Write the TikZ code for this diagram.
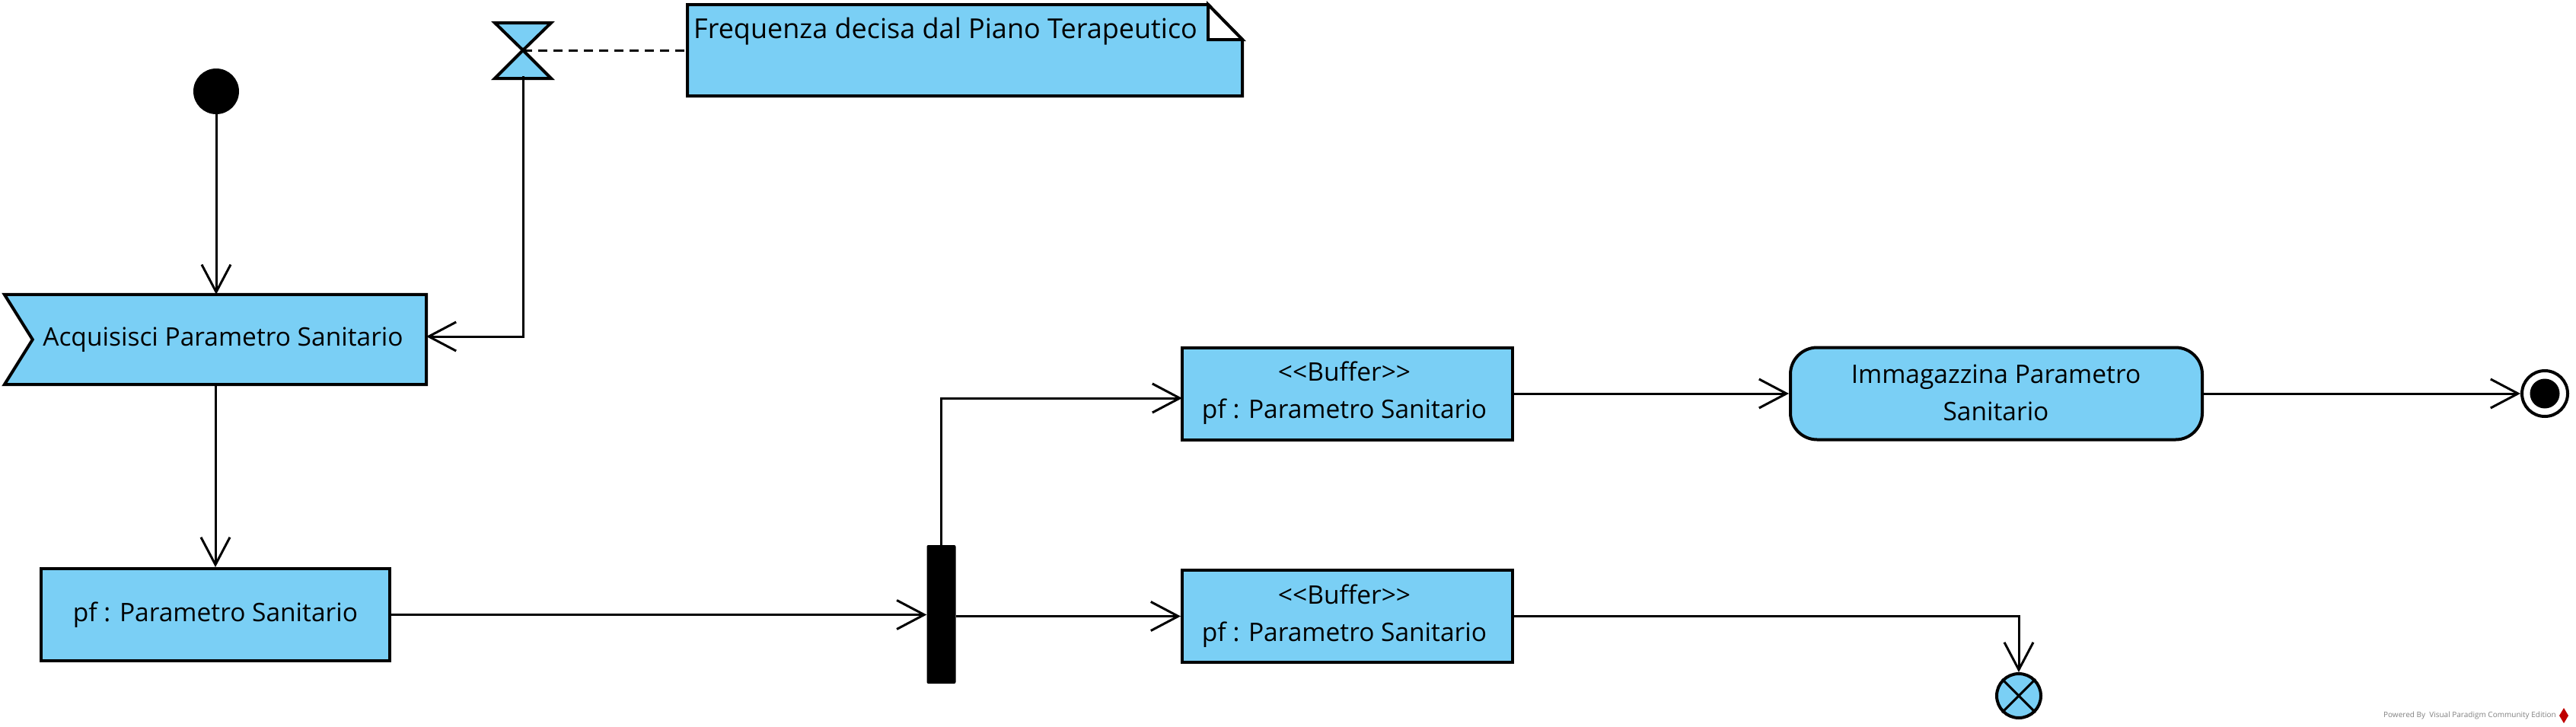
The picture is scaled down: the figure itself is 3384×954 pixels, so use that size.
\documentclass[tikz,border=0pt]{standalone}
\usepackage{fontspec}
\setmainfont{Open Sans}
\usetikzlibrary{arrows.meta,calc}
\definecolor{vpblue}{HTML}{7ACFF5}
\tikzset{
  conn/.style={line width=3pt,-{Straight Barb[length=36pt,width=38pt,line width=3pt]}},
  plain/.style={line width=3pt},
  border/.style={draw,line width=4pt,line join=miter},
  boxn/.style={border,fill=vpblue,inner sep=0pt},
  txt/.style={font=\fontsize{33.5}{49}\selectfont,align=center,inner sep=0pt},
}
\begin{document}
\begin{tikzpicture}[x=1pt,y=-1pt]
\useasboundingbox (0,0) rectangle (3384,954);
% initial node
\node[fill=black,circle,minimum size=60pt,inner sep=0pt] (init) at (284,120) {};
% timer
\coordinate (timer) at (687,66);
\coordinate (timerbot) at (687,100);
\draw[border,fill=vpblue] (650,30) -- (724,30) -- (timer) -- cycle;
\draw[border,fill=vpblue] (timer) -- (650,103) -- (724,103) -- cycle;
% note
\draw[border,fill=vpblue] (903,6) -- (1587,6) -- (1632,52) -- (1632,126) -- (903,126) -- cycle;
\draw[border,fill=white] (1587,6) -- (1587,52) -- (1632,52) -- cycle;
\node[txt,font=\fontsize{36}{44}\selectfont,anchor=west] (notetext) at (911,41) {Frequenza decisa dal Piano Terapeutico};
\coordinate (noteL) at (903,66);
\draw[line width=3pt,dash pattern=on 12pt off 8pt] (timer) -- (noteL);
% accept event action
\node[minimum width=554pt,minimum height=118pt,inner sep=0pt] (acq) at (283,446) {};
\draw[border,fill=vpblue] (acq.north west) -- (acq.north east) -- (acq.south east) -- (acq.south west) -- ($(acq.west)+(37,0)$) -- cycle;
\node[txt] (acqlabel) at (293,446) {Acquisisci Parametro Sanitario};
\coordinate (acqin) at (560,442);
% object node pf
\node[boxn,minimum width=458pt,minimum height=121pt] (pf) at (283,807.5) {};
\node[txt] (pflabel) at (pf) {pf : Parametro Sanitario};
% fork
\node[fill=black,minimum width=38pt,minimum height=182pt,inner sep=0pt,rounded corners=2pt] (fork) at (1236.5,807) {};
% buffers
\node[boxn,minimum width=434pt,minimum height=121pt] (buf1) at (1770,517) {};
\node[txt] (buf1label) at (1766,516) {<\kern0pt<Buffer>\kern0pt>\\pf : Parametro Sanitario};
\node[boxn,minimum width=434pt,minimum height=121pt] (buf2) at (1770,809.5) {};
\node[txt] (buf2label) at (1766,809) {<\kern0pt<Buffer>\kern0pt>\\pf : Parametro Sanitario};
\coordinate (buf1in) at (1553,523);
% action
\node[boxn,rounded corners=35pt,minimum width=541pt,minimum height=121pt] (store) at (2622.5,517) {};
\node[txt] (storelabel) at (2622,516) {Immagazzina Parametro\\Sanitario};
% final nodes
\node[border,fill=white,circle,minimum size=60pt,inner sep=0pt] (final) at (3343,517) {};
\node[fill=black,circle,minimum size=39pt,inner sep=0pt] (finaldot) at (final) {};
\node[border,fill=vpblue,circle,minimum size=58pt,inner sep=0pt] (ff) at (2652,914) {};
\draw[line width=3pt] (ff.north west) -- (ff.south east) (ff.north east) -- (ff.south west);
% connectors
\draw[conn] (init.south) -- (init.south |- acq.north);
\draw[conn] (timerbot) |- (acqin);
\draw[conn] (acq.south) -- (pf.north);
\draw[conn] (pf.east) -- (pf.east -| fork.west);
\draw[conn] (fork.north) |- (buf1in);
\draw[conn] (fork.east |- buf2.west) -- (buf2.west);
\draw[conn] (buf1.east) -- (store.west);
\draw[conn] (store.east) -- (final.west);
\draw[conn] (buf2.east) -| (ff.north);
% watermark
\node[font=\fontsize{10}{11}\selectfont,text=gray,anchor=east,inner sep=0pt] (wm) at (3358,940) {Powered By\ \ Visual Paradigm Community Edition};
\fill[red!75!black] (3368,930) -- (3374,940) -- (3368,950) -- (3362,940) -- cycle;
\end{tikzpicture}
\end{document}
